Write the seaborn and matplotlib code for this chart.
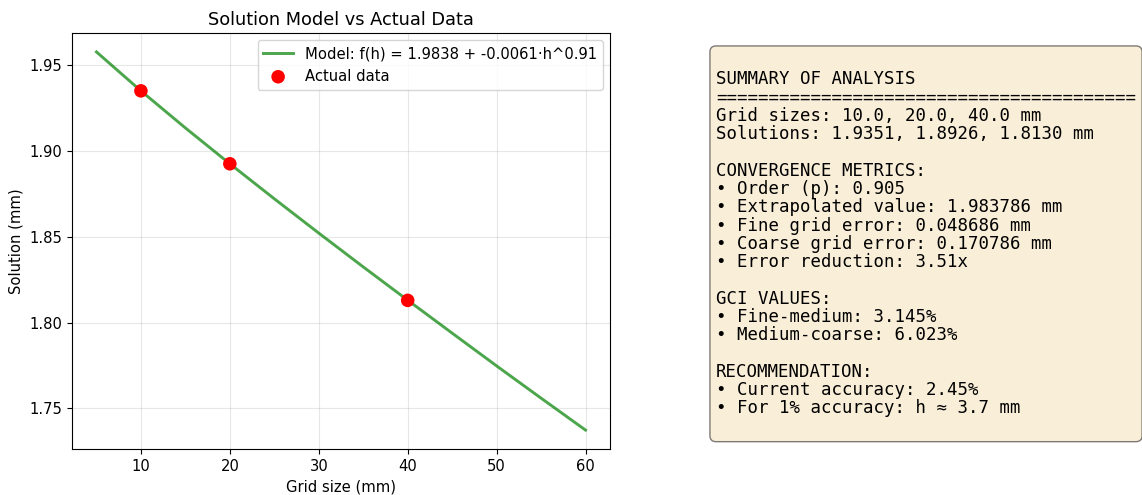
import matplotlib
matplotlib.use("Agg")
import matplotlib.pyplot as plt
import seaborn as sns
import pandas as pd

# Data
grid_sizes = [10.0, 20.0, 40.0]
solutions = [1.9351, 1.8926, 1.8130]
model_h = [5, 10, 15, 20, 25, 30, 35, 40, 45, 50, 55, 60]
model_f = [1.9578, 1.9351, 1.9135, 1.8926, 1.8722, 1.8522, 1.8325, 1.8131,
           1.7939, 1.7748, 1.7560, 1.7374]
model_label = "Model: f(h) = 1.9838 + -0.0061·h^0.91"
data_label = "Actual data"

summary_lines = [
    "",
    "SUMMARY OF ANALYSIS",
    "=" * 40,
    "Grid sizes: 10.0, 20.0, 40.0 mm",
    "Solutions: 1.9351, 1.8926, 1.8130 mm",
    "",
    "CONVERGENCE METRICS:",
    "• Order (p): 0.905",
    "• Extrapolated value: 1.983786 mm",
    "• Fine grid error: 0.048686 mm",
    "• Coarse grid error: 0.170786 mm",
    "• Error reduction: 3.51x",
    "",
    "GCI VALUES:",
    "• Fine-medium: 3.145%",
    "• Medium-coarse: 6.023%",
    "",
    "RECOMMENDATION:",
    "• Current accuracy: 2.45%",
    "• For 1% accuracy: h ≈ 3.7 mm",
    "",
]

plt.rcParams["font.size"] = 10.6

model_df = pd.DataFrame({"h": model_h, "f": model_f})
data_df = pd.DataFrame({"h": grid_sizes, "s": solutions})

fig = plt.figure(figsize=(11.42, 4.95), dpi=100)
ax = fig.add_axes([72 / 1142, 1 - 449 / 495, (610 - 72) / 1142, (449 - 33) / 495])

sns.lineplot(data=model_df, x="h", y="f", ax=ax, color="green", alpha=0.7,
             linewidth=2.1, label=model_label)
sns.scatterplot(data=data_df, x="h", y="s", ax=ax, color="red", s=95,
                edgecolor="none", label=data_label, zorder=5)

ax.set_title("Solution Model vs Actual Data", fontsize=12.8)
ax.set_xlabel("Grid size (mm)")
ax.set_ylabel("Solution (mm)")
ax.grid(True, alpha=0.3)
ax.legend(loc="upper right")

fig.text(716 / 1142, 1 - 52 / 495, "\n".join(summary_lines), va="top", ha="left",
         family=["DejaVu Sans Mono"], fontsize=12.5, linespacing=1.02,
         bbox=dict(boxstyle="round,pad=0.35", facecolor="wheat", alpha=0.5))

fig.savefig("out.png", dpi=100)
